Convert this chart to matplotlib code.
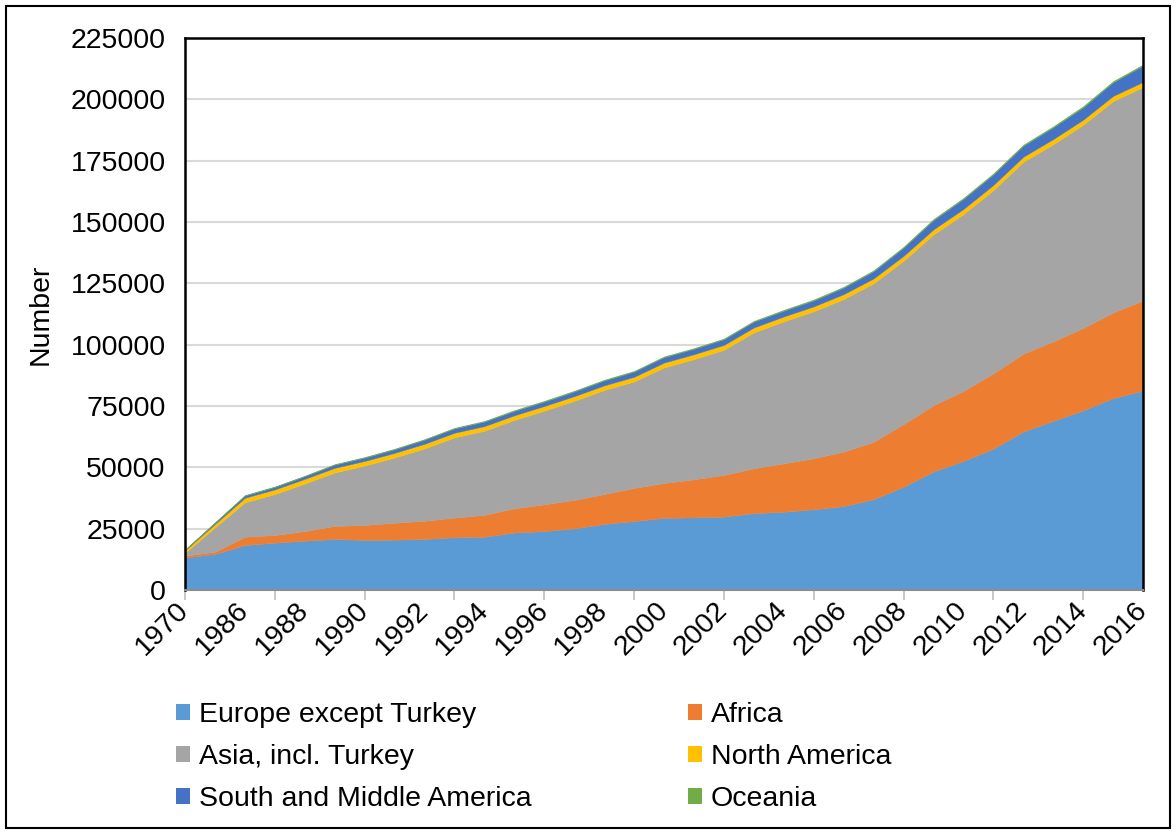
import matplotlib
matplotlib.use("Agg")
import matplotlib.pyplot as plt
from matplotlib.patches import Patch, Rectangle

plt.rcParams['font.family'] = ['Liberation Sans', 'DejaVu Sans']

# categories on the x axis (only every other one is labelled)
years = ['1970', '1985'] + [str(y) for y in range(1986, 2017)]

europe = [13200, 14700, 18300, 19300, 20100, 20800, 20400, 20500, 20800, 21500,
          21700, 23400, 24000, 25100, 26900, 28100, 29400, 29600, 29900, 31300,
          31900, 32900, 34200, 37000, 42100, 48300, 52600, 57600, 64600, 68900,
          73200, 78200, 81300]
africa = [800, 900, 3400, 3100, 3900, 5300, 6100, 6900, 7400, 8000,
          8900, 9900, 10900, 11600, 12200, 13500, 14200, 15500, 17000, 18300,
          19700, 20800, 22200, 23400, 25500, 27000, 28500, 30700, 31700, 32400,
          33600, 34900, 36700]
asia = [1200, 9900, 14000, 16700, 19400, 21800, 24200, 26600, 29500, 32700,
        34300, 36000, 38200, 40400, 42400, 43400, 47100, 49000, 51000, 55400,
        57900, 59900, 62200, 64600, 66600, 69600, 72100, 74700, 78200, 80400,
        82800, 86200, 87000]
north_america = [1000, 1400, 1900, 1900, 1900, 1900, 1900, 1900, 1900, 1900,
                 1900, 1900, 1900, 1900, 1900, 1900, 2000, 2000, 2000, 2000,
                 2000, 2000, 2000, 2000, 2000, 2100, 2100, 2100, 2100, 2100,
                 2100, 2100, 2100]
south_middle_america = [200, 550, 900, 1000, 1100, 1300, 1350, 1450, 1650, 1750,
                        1850, 1800, 1800, 1900, 2000, 2100, 2200, 2200, 2300, 2400,
                        2350, 2450, 2650, 2950, 3350, 3800, 4100, 4300, 4500, 4800,
                        5050, 5550, 6650]
oceania = [100, 150, 200, 200, 200, 200, 250, 250, 250, 250,
           250, 300, 300, 300, 300, 300, 300, 300, 300, 300,
           350, 350, 350, 350, 350, 400, 400, 400, 400, 400,
           450, 450, 450]

labels = ['Europe except Turkey', 'Africa', 'Asia, incl. Turkey',
          'North America', 'South and Middle America', 'Oceania']
colors = ['#5B9BD5', '#ED7D31', '#A5A5A5', '#FFC000', '#4472C4', '#70AD47']
fs = 20.5

fig = plt.figure(figsize=(11.76, 8.32), dpi=100)
ax = fig.add_axes([185/1176, 1-590/832, (1143-185)/1176, (590-38)/832])

x = list(range(len(years)))
polys = ax.stackplot(x, europe, africa, asia, north_america, south_middle_america, oceania,
                     colors=colors, labels=labels, zorder=2)
for p, c in zip(polys, colors):
    p.set_edgecolor(c)
    p.set_linewidth(0.3)

ax.set_xlim(0, len(years)-1)
ax.set_ylim(0, 225000)
ax.set_yticks(range(0, 225001, 25000))
ax.set_yticklabels([str(v) for v in range(0, 225001, 25000)], fontsize=fs)
ax.tick_params(axis='y', length=0, pad=14)
ax.yaxis.grid(True, color='#D9D9D9', linewidth=1.5, zorder=0)
ax.set_axisbelow(True)

# tick marks every 3 categories, labels every 2
ax.xaxis.remove_overlapping_locs = False
ax.set_xticks(range(0, len(years), 3))
ax.set_xticklabels([])
ax.tick_params(axis='x', which='major', length=7, color='#BFBFBF', width=1.2)
ax.set_xticks(range(0, len(years), 2), minor=True)
ax.set_xticklabels(years[::2], minor=True, rotation=45, ha='right', va='center',
                   rotation_mode='anchor', fontsize=fs)
ax.tick_params(axis='x', which='minor', length=0, pad=12)

for side in ['top', 'left', 'right']:
    ax.spines[side].set_color('black')
    ax.spines[side].set_linewidth(1.8)
ax.spines['bottom'].set_color('#8C8C8C')
ax.spines['bottom'].set_linewidth(1.5)

ax.set_ylabel('Number', fontsize=fs, labelpad=12)

# legend filled row by row like the original: reorder for column-major fill
order = [0, 2, 4, 1, 3, 5]
handles = [Patch(facecolor=colors[i], edgecolor='none') for i in order]
fig.legend(handles, [labels[i] for i in order], loc='upper left',
           bbox_to_anchor=(162/1176, 1-688/832),
           ncol=2, frameon=False, fontsize=fs, handlelength=0.5, handleheight=0.5,
           handletextpad=0.3, columnspacing=5.5, labelspacing=0.56, borderpad=0)

fig.patches.append(Rectangle((6/1176, 4/832), 1164/1176, 822/832, transform=fig.transFigure,
                             fill=False, edgecolor='black', linewidth=1.5))

fig.savefig('out.png', dpi=100)
